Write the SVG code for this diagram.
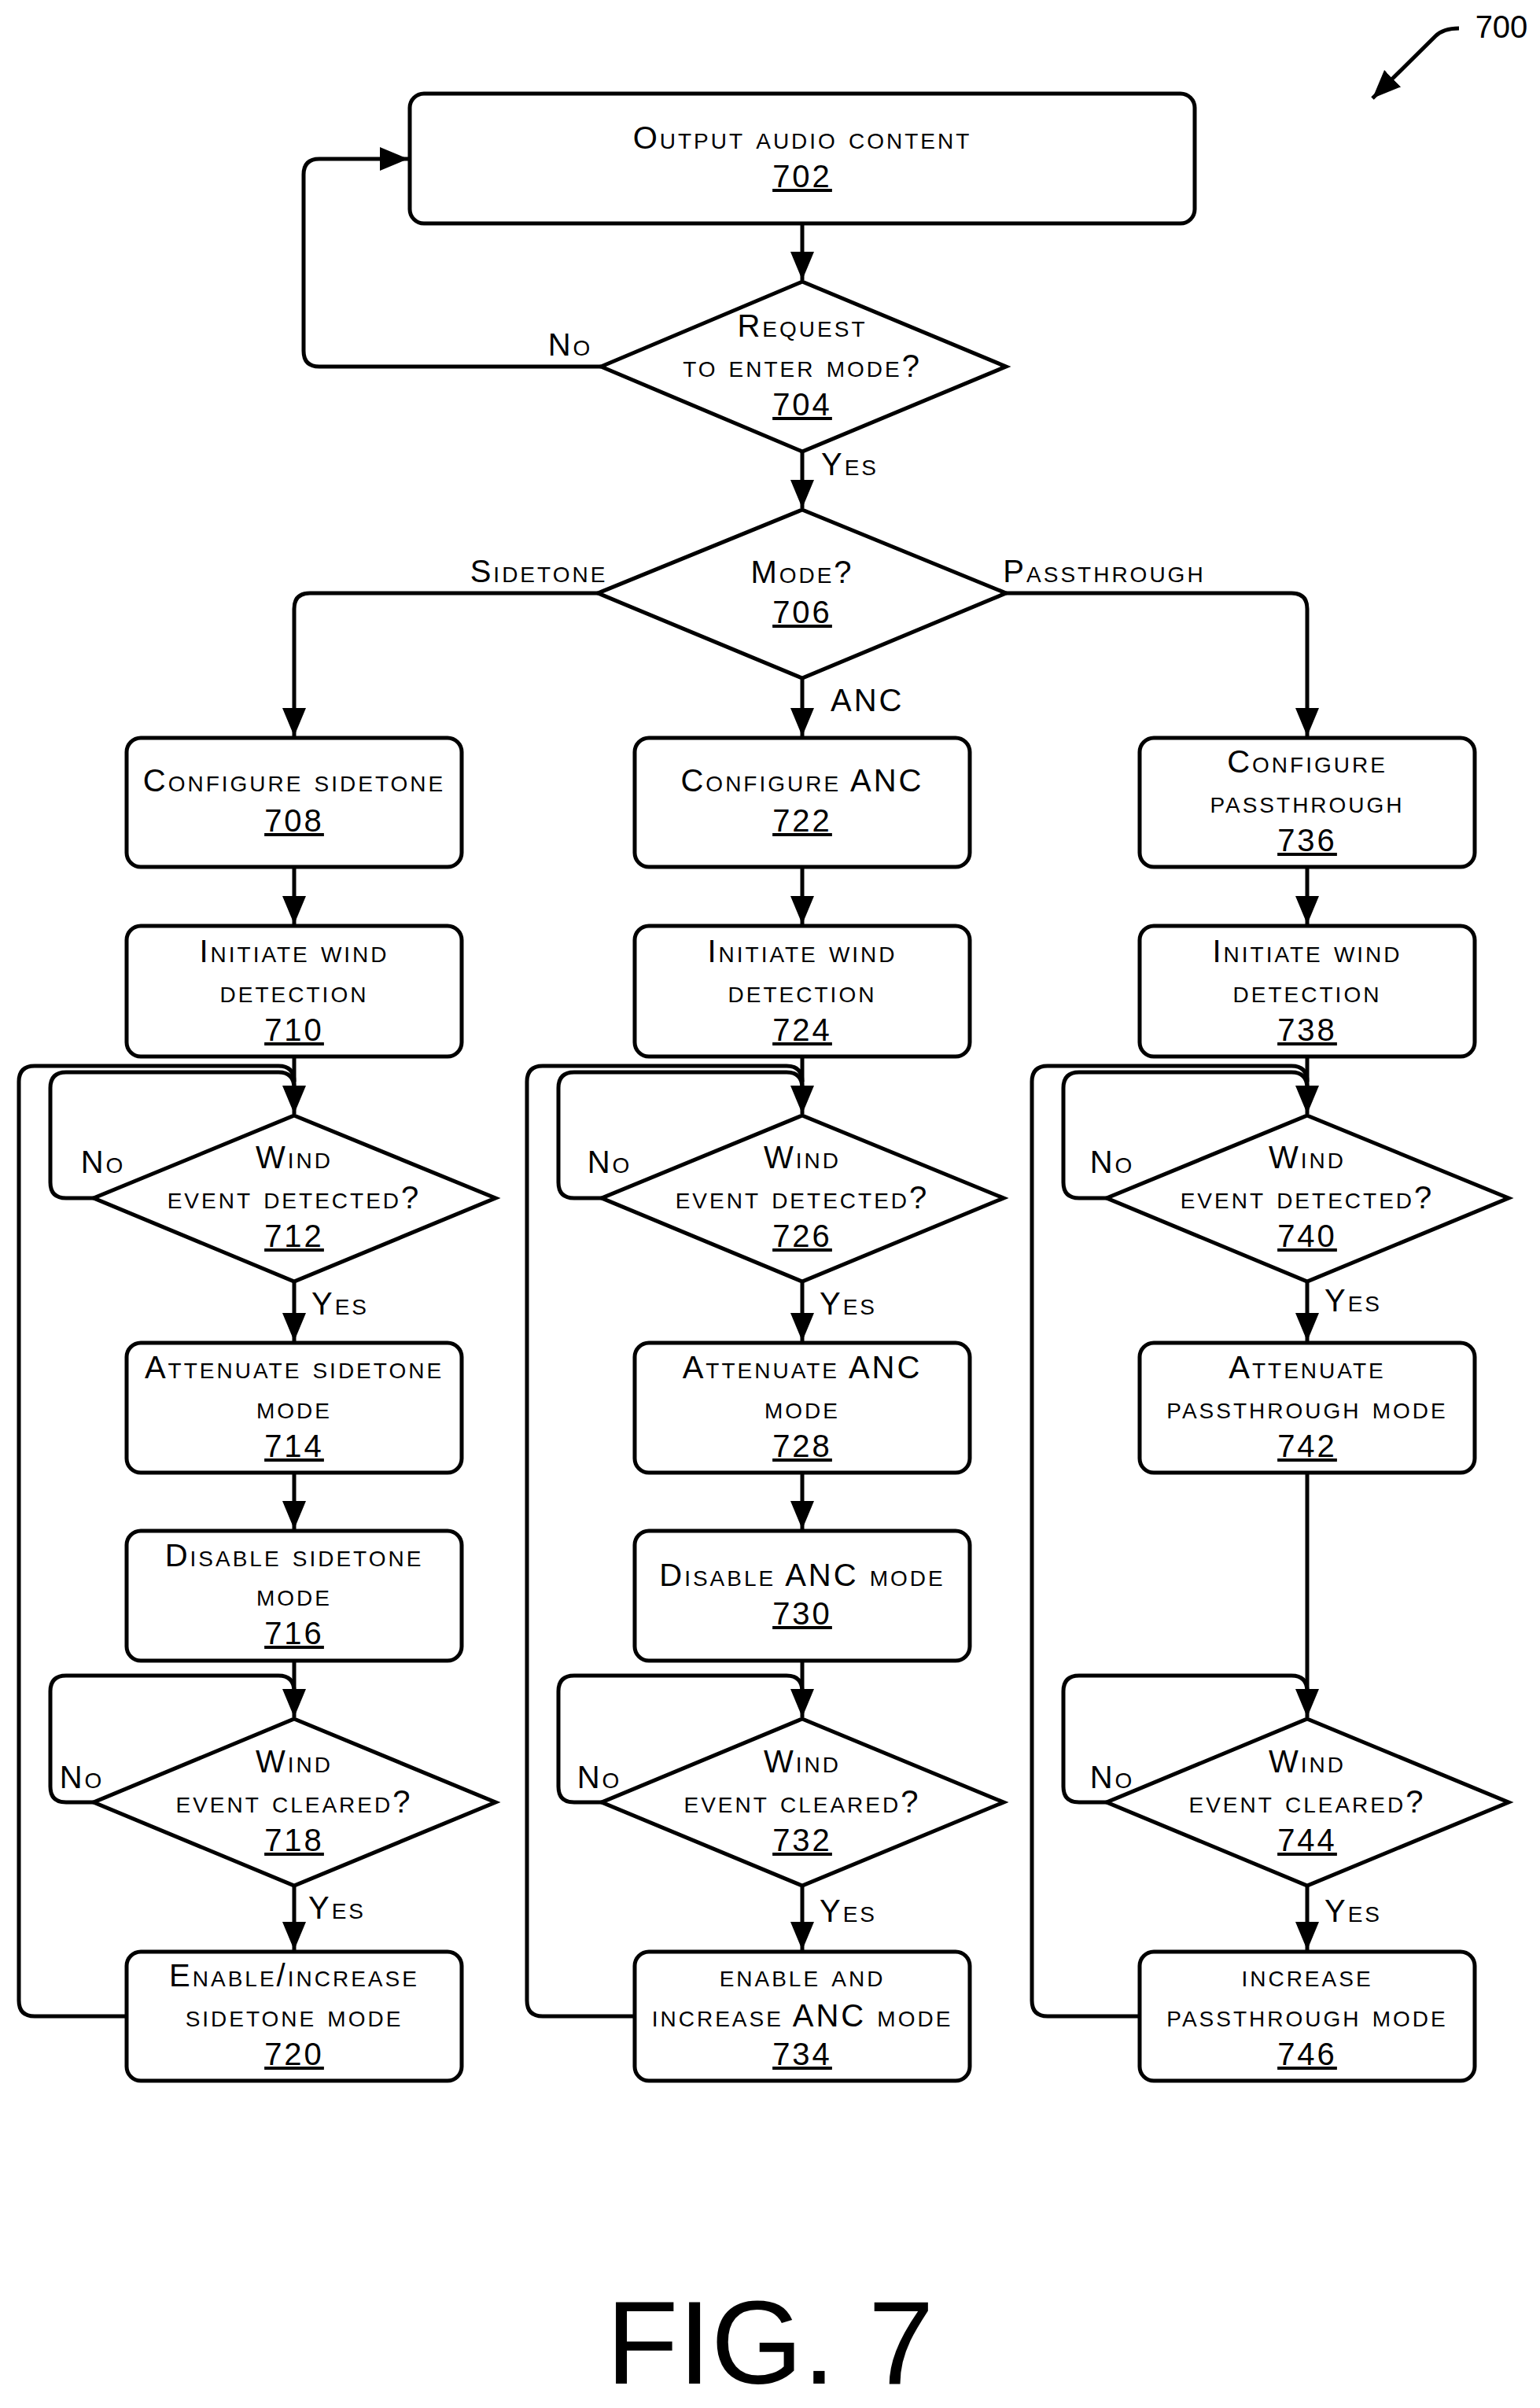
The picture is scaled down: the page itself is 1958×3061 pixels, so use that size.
<svg xmlns="http://www.w3.org/2000/svg" width="1958" height="3061" viewBox="0 0 1958 3061">
<style>
.s{fill:#fff;stroke:#000;stroke-width:5}
.c{fill:none;stroke:#000;stroke-width:5}
text{font-family:"Liberation Sans",Arial,sans-serif;font-size:40px;letter-spacing:3px;font-variant:small-caps;fill:#000;text-anchor:middle}
.n{text-decoration:underline}
.l{text-anchor:start}
</style>
<defs><marker id="a" markerUnits="userSpaceOnUse" markerWidth="38" markerHeight="32" refX="36" refY="15" orient="auto"><path d="M0,0 L36,15 L0,30 z" fill="#000"/></marker></defs>
<rect width="1958" height="3061" fill="#fff"/>
<g id="connectors" class="c">
<path d="M1020,284 V356" marker-end="url(#a)"/>
<path d="M1020,574 V646" marker-end="url(#a)"/>
<path d="M764,466 H406 Q386,466 386,446 V222 Q386,202 406,202 H519" marker-end="url(#a)"/>
<path d="M760,754 H394 Q374,754 374,774 V936" marker-end="url(#a)"/>
<path d="M1279,754 H1642 Q1662,754 1662,774 V936" marker-end="url(#a)"/>
<path d="M1020,862 V936" marker-end="url(#a)"/>
<path d="M374,1102 V1175" marker-end="url(#a)"/><path d="M1020,1102 V1175" marker-end="url(#a)"/><path d="M1662,1102 V1175" marker-end="url(#a)"/>
<path d="M374,1343 V1416" marker-end="url(#a)"/><path d="M1020,1343 V1416" marker-end="url(#a)"/><path d="M1662,1343 V1416" marker-end="url(#a)"/>
<path d="M374,1629 V1705" marker-end="url(#a)"/><path d="M1020,1629 V1705" marker-end="url(#a)"/><path d="M1662,1629 V1705" marker-end="url(#a)"/>
<path d="M374,1872 V1944" marker-end="url(#a)"/><path d="M1020,1872 V1944" marker-end="url(#a)"/><path d="M1662,1872 V2183" marker-end="url(#a)"/>
<path d="M374,2111 V2183" marker-end="url(#a)"/><path d="M1020,2111 V2183" marker-end="url(#a)"/>
<path d="M374,2397 V2479" marker-end="url(#a)"/><path d="M1020,2397 V2479" marker-end="url(#a)"/><path d="M1662,2397 V2479" marker-end="url(#a)"/>
<path d="M119,1523 H84 Q64,1523 64,1503 V1383 Q64,1363 84,1363 H354 Q374,1363 374,1383"/>
<path d="M161,2563 H44 Q24,2563 24,2543 V1375 Q24,1355 44,1355 H354 Q374,1355 374,1375"/>
<path d="M119,2291 H84 Q64,2291 64,2271 V2150 Q64,2130 84,2130 H354 Q374,2130 374,2150"/>
<path d="M765,1523 H730 Q710,1523 710,1503 V1383 Q710,1363 730,1363 H1000 Q1020,1363 1020,1383"/>
<path d="M807,2563 H690 Q670,2563 670,2543 V1375 Q670,1355 690,1355 H1000 Q1020,1355 1020,1375"/>
<path d="M765,2291 H730 Q710,2291 710,2271 V2150 Q710,2130 730,2130 H1000 Q1020,2130 1020,2150"/>
<path d="M1407,1523 H1372 Q1352,1523 1352,1503 V1383 Q1352,1363 1372,1363 H1642 Q1662,1363 1662,1383"/>
<path d="M1449,2563 H1332 Q1312,2563 1312,2543 V1375 Q1312,1355 1332,1355 H1642 Q1662,1355 1662,1375"/>
<path d="M1407,2291 H1372 Q1352,2291 1352,2271 V2150 Q1352,2130 1372,2130 H1642 Q1662,2130 1662,2150"/>
<path d="M1855,36 Q1835,36 1825,46 L1745,125" marker-end="url(#a)"/>
</g>
<g id="labels">
<text x="725" y="452">No</text><text class="l" x="1044" y="604">Yes</text>
<text x="685" y="740">Sidetone</text><text x="1404" y="740">Passthrough</text><text class="l" x="1056" y="904">ANC</text>
<text class="l" x="396" y="1671">Yes</text><text class="l" x="1042" y="1671">Yes</text><text class="l" x="1684" y="1667">Yes</text>
<text class="l" x="392" y="2439">Yes</text><text class="l" x="1042" y="2443">Yes</text><text class="l" x="1684" y="2443">Yes</text>
<text x="131" y="1491">No</text><text x="775" y="1491">No</text><text x="1414" y="1491">No</text>
<text x="104" y="2273">No</text><text x="762" y="2273">No</text><text x="1414" y="2273">No</text>
<text x="1909" y="48" style="font-variant:normal;letter-spacing:0">700</text>
<text x="979" y="3030" style="font-size:150px;font-variant:normal;letter-spacing:0">FIG. 7</text>
</g>
<g id="n702"><rect class="s" x="521" y="119" width="998" height="165" rx="18"/><text x="1020" y="189">Output audio content</text><text class="n" x="1020" y="238">702</text></g>
<g id="n704"><polygon class="s" points="1020,358 1279,466 1020,574 764,466"/><text x="1020" y="428">Request</text><text x="1020" y="479">to enter mode?</text><text class="n" x="1020" y="528">704</text></g>
<g id="n706"><polygon class="s" points="1020,648 1279,754 1020,862 760,754"/><text x="1020" y="741">Mode?</text><text class="n" x="1020" y="792">706</text></g>
<g id="n708"><rect class="s" x="161" y="938" width="426" height="164" rx="18"/><text x="374" y="1006">Configure sidetone</text><text class="n" x="374" y="1057">708</text></g>
<g id="n722"><rect class="s" x="807" y="938" width="426" height="164" rx="18"/><text x="1020" y="1006">Configure ANC</text><text class="n" x="1020" y="1057">722</text></g>
<g id="n736"><rect class="s" x="1449" y="938" width="426" height="164" rx="18"/><text x="1662" y="982">Configure</text><text x="1662" y="1033">passthrough</text><text class="n" x="1662" y="1082">736</text></g>
<g id="n710"><rect class="s" x="161" y="1177" width="426" height="166" rx="18"/><text x="374" y="1223">Initiate wind</text><text x="374" y="1274">detection</text><text class="n" x="374" y="1323">710</text></g>
<g id="n724"><rect class="s" x="807" y="1177" width="426" height="166" rx="18"/><text x="1020" y="1223">Initiate wind</text><text x="1020" y="1274">detection</text><text class="n" x="1020" y="1323">724</text></g>
<g id="n738"><rect class="s" x="1449" y="1177" width="426" height="166" rx="18"/><text x="1662" y="1223">Initiate wind</text><text x="1662" y="1274">detection</text><text class="n" x="1662" y="1323">738</text></g>
<g id="n712"><polygon class="s" points="374,1418 630,1523 374,1629 119,1523"/><text x="374" y="1485">Wind</text><text x="374" y="1536">event detected?</text><text class="n" x="374" y="1585">712</text></g>
<g id="n726"><polygon class="s" points="1020,1418 1276,1523 1020,1629 765,1523"/><text x="1020" y="1485">Wind</text><text x="1020" y="1536">event detected?</text><text class="n" x="1020" y="1585">726</text></g>
<g id="n740"><polygon class="s" points="1662,1418 1918,1523 1662,1629 1407,1523"/><text x="1662" y="1485">Wind</text><text x="1662" y="1536">event detected?</text><text class="n" x="1662" y="1585">740</text></g>
<g id="n714"><rect class="s" x="161" y="1707" width="426" height="165" rx="18"/><text x="374" y="1752">Attenuate sidetone</text><text x="374" y="1803">mode</text><text class="n" x="374" y="1852">714</text></g>
<g id="n728"><rect class="s" x="807" y="1707" width="426" height="165" rx="18"/><text x="1020" y="1752">Attenuate ANC</text><text x="1020" y="1803">mode</text><text class="n" x="1020" y="1852">728</text></g>
<g id="n742"><rect class="s" x="1449" y="1707" width="426" height="165" rx="18"/><text x="1662" y="1752">Attenuate</text><text x="1662" y="1803">passthrough mode</text><text class="n" x="1662" y="1852">742</text></g>
<g id="n716"><rect class="s" x="161" y="1946" width="426" height="165" rx="18"/><text x="374" y="1991">Disable sidetone</text><text x="374" y="2041">mode</text><text class="n" x="374" y="2090">716</text></g>
<g id="n730"><rect class="s" x="807" y="1946" width="426" height="165" rx="18"/><text x="1020" y="2016">Disable ANC mode</text><text class="n" x="1020" y="2065">730</text></g>
<g id="n718"><polygon class="s" points="374,2185 630,2291 374,2397 119,2291"/><text x="374" y="2253">Wind</text><text x="374" y="2304">event cleared?</text><text class="n" x="374" y="2353">718</text></g>
<g id="n732"><polygon class="s" points="1020,2185 1276,2291 1020,2397 765,2291"/><text x="1020" y="2253">Wind</text><text x="1020" y="2304">event cleared?</text><text class="n" x="1020" y="2353">732</text></g>
<g id="n744"><polygon class="s" points="1662,2185 1918,2291 1662,2397 1407,2291"/><text x="1662" y="2253">Wind</text><text x="1662" y="2304">event cleared?</text><text class="n" x="1662" y="2353">744</text></g>
<g id="n720"><rect class="s" x="161" y="2481" width="426" height="164" rx="18"/><text x="374" y="2525">Enable/increase</text><text x="374" y="2576">sidetone mode</text><text class="n" x="374" y="2625">720</text></g>
<g id="n734"><rect class="s" x="807" y="2481" width="426" height="164" rx="18"/><text x="1020" y="2525">enable and</text><text x="1020" y="2576">increase ANC mode</text><text class="n" x="1020" y="2625">734</text></g>
<g id="n746"><rect class="s" x="1449" y="2481" width="426" height="164" rx="18"/><text x="1662" y="2525">increase</text><text x="1662" y="2576">passthrough mode</text><text class="n" x="1662" y="2625">746</text></g>
</svg>
